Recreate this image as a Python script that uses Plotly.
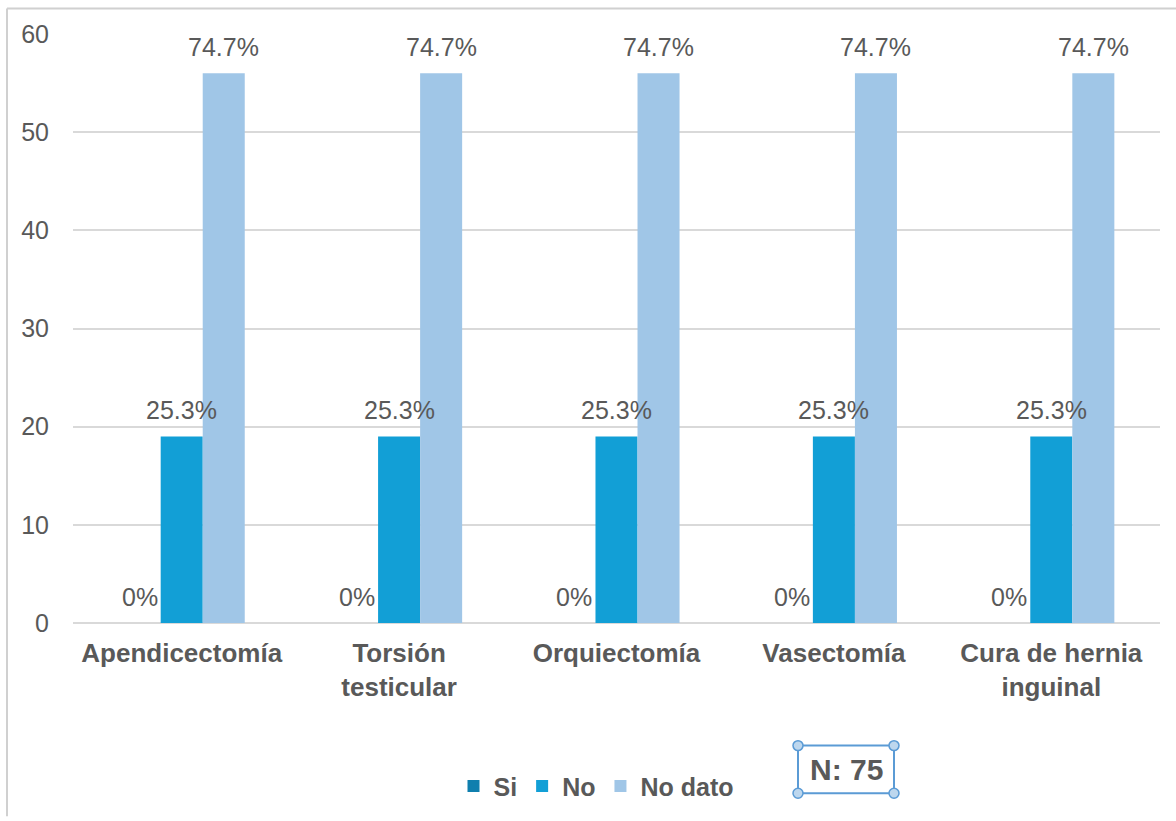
import plotly.graph_objects as go

categories = ["Apendicectomía", "Torsión<br>testicular", "Orquiectomía", "Vasectomía", "Cura de hernia<br>inguinal"]
series_names = ["Si", "No", "No dato"]
si_values = [0, 0, 0, 0, 0]
no_values = [19, 19, 19, 19, 19]
nodato_values = [56, 56, 56, 56, 56]
total_n = 75
y_ticks = [0, 10, 20, 30, 40, 50, 60]

colors = ["#0F7FAE", "#129FD6", "#A0C6E7"]
txt_color = "#595959"
FONT = "Liberation Sans, Arial, sans-serif"


def pct(v):
    p = v / total_n * 100
    return "0%" if p == 0 else f"{p:.1f}%"


W, H = 1176, 821
L, R, T, B = 73, 16, 34, 190
pw, ph = W - L - R, H - T - B
S = 0.993
BARGAP = 0.42
bar_px = pw / len(categories) * (1 - BARGAP) / len(series_names)

fig = go.Figure()
annotations = []
all_series = [si_values, no_values, nodato_values]
for i, (name, vals, col) in enumerate(zip(series_names, all_series, colors)):
    fig.add_trace(go.Bar(
        name=name, x=categories, y=vals, marker=dict(color=col, line=dict(width=0)),
        textposition="none", cliponaxis=False,
    ))
    shift = (i - (len(series_names) - 1) / 2) * bar_px
    for c, v in zip(categories, vals):
        annotations.append(dict(
            x=c, y=v, xref="x", yref="y", text=pct(v), showarrow=False,
            xanchor="center", yanchor="middle", xshift=shift, yshift=26,
            font=dict(size=25, color=txt_color, family=FONT)))


def px(x):
    return (x - L) / pw


def py(y):
    return (H - B - y / S) / ph


shapes = [
    dict(type="line", xref="paper", yref="paper", x0=px(7), x1=px(1176), y0=py(8), y1=py(8),
         line=dict(color="#D0D0D0", width=2)),
    dict(type="line", xref="paper", yref="paper", x0=px(7), x1=px(7), y0=py(8), y1=py(821),
         line=dict(color="#D0D0D0", width=2)),
    dict(type="rect", xref="paper", yref="paper", x0=px(798), x1=px(894), y0=py(750), y1=py(798),
         line=dict(color="#5B9BD5", width=2), fillcolor="rgba(0,0,0,0)"),
]
for cx, cy in [(798, 750), (894, 750), (798, 798), (894, 798)]:
    r = 5
    shapes.append(dict(type="circle", xref="paper", yref="paper",
                       x0=px(cx - r), x1=px(cx + r), y0=py(cy - r), y1=py(cy + r),
                       line=dict(color="#5B9BD5", width=1.5), fillcolor="#BDD7EE"))

annotations.append(dict(text="<b>N: 75</b>", xref="paper", yref="paper", x=px(846), y=py(774),
                        xanchor="center", yanchor="middle", showarrow=False,
                        font=dict(size=30, color=txt_color, family=FONT)))

fig.update_layout(
    width=W, height=H,
    margin=dict(l=L, r=R, t=T, b=B),
    paper_bgcolor="white", plot_bgcolor="white",
    barmode="group", bargap=BARGAP, bargroupgap=0,
    font=dict(family=FONT, color=txt_color),
    showlegend=True,
    legend=dict(orientation="h", x=px(596), xanchor="center", y=py(791), yanchor="middle",
                font=dict(size=25, color=txt_color, family=FONT, weight="bold"),
                itemwidth=30, traceorder="normal"),
    xaxis=dict(showgrid=False, showline=False, ticks="", ticklabelstandoff=12,
               tickfont=dict(size=26, color=txt_color, family=FONT, weight="bold")),
    yaxis=dict(range=[0, 60], tickvals=y_ticks, showgrid=True, gridcolor="#D9D9D9", gridwidth=1.5,
               zeroline=True, zerolinecolor="#D9D9D9", zerolinewidth=1.5, ticklabelstandoff=23,
               showline=False, ticks="", tickfont=dict(size=25, color=txt_color, family=FONT)),
    shapes=shapes,
    annotations=annotations,
)

fig.write_html("out.html", config={"displayModeBar": False},
               post_script="document.body.style.margin='0';")
